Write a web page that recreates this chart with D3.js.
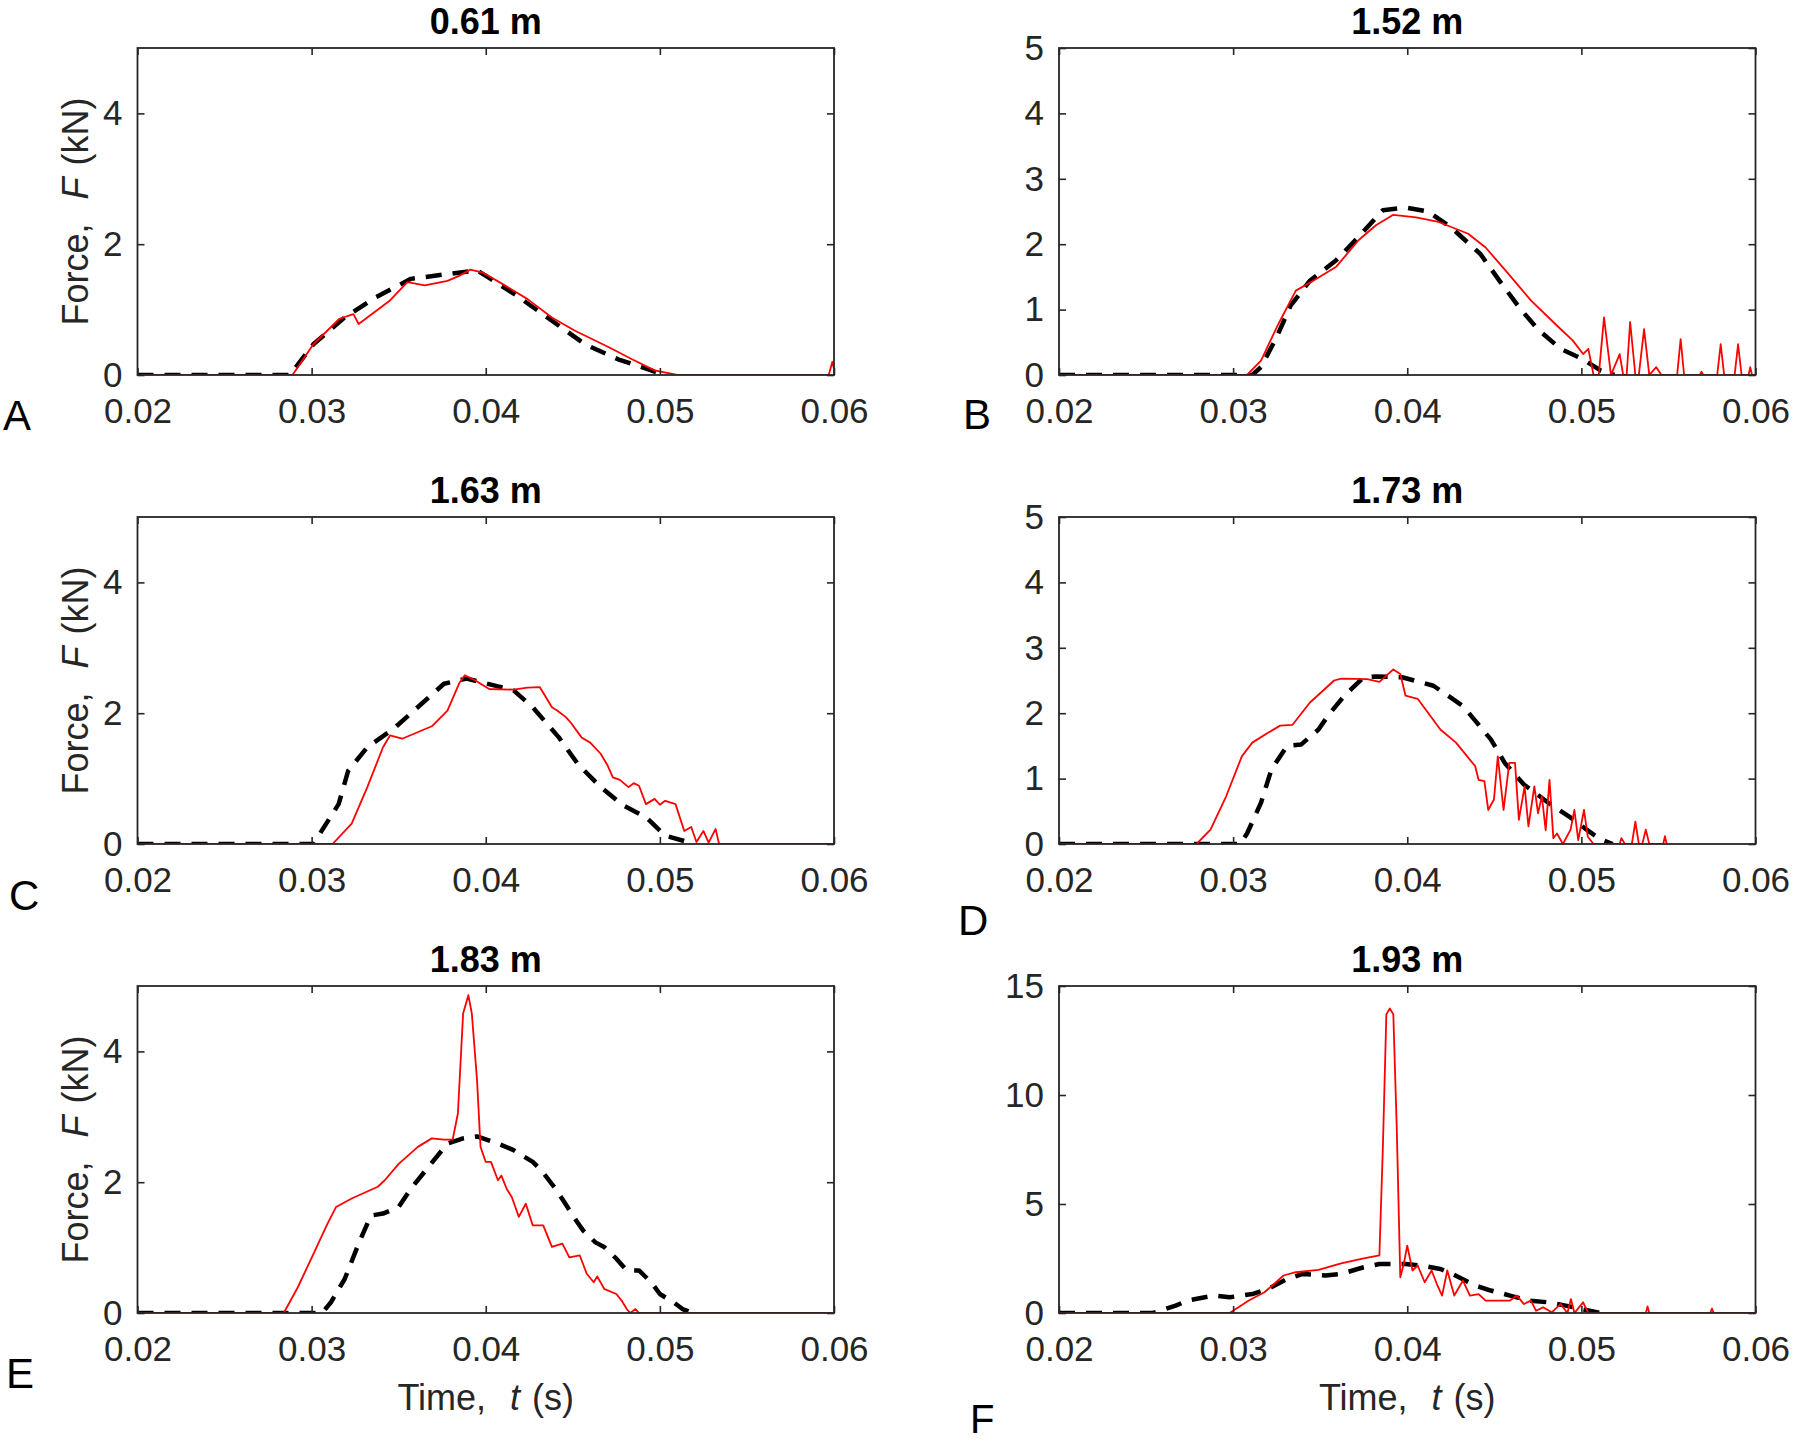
<!DOCTYPE html>
<html><head><meta charset="utf-8">
<script src="https://cdn.jsdelivr.net/npm/d3@7"></script>
<style>html,body{margin:0;padding:0;background:#fff;} svg{display:block;}</style>
</head><body><svg id="chart" width="1800" height="1443"></svg>
<script>
// ---------- data ----------
const xTicks = [0.02, 0.03, 0.04, 0.05, 0.06];
const xTickLabels = ["0.02", "0.03", "0.04", "0.05", "0.06"];
const yTicksLeftCol = [0, 2, 4];
const yTicksRightCol = [0, 1, 2, 3, 4, 5];
const yTicksF = [0, 5, 10, 15];
const titles = ["0.61 m", "1.52 m", "1.63 m", "1.73 m", "1.83 m", "1.93 m"];
const letters = ["A", "B", "C", "D", "E", "F"];
const yMaxes = [5, 5, 5, 5, 5, 15];

// [time (s), force (kN)] — black dashed (model), red solid (measured)
const blackA = [[0.02,0],[0.02875,0],[0.0301,0.47],[0.0319,0.88],[0.0337,1.19],[0.0357,1.47],[0.038,1.55],[0.0395,1.6],[0.0401,1.5],[0.0418,1.21],[0.0438,0.83],[0.0457,0.47],[0.0476,0.24],[0.0495,0.07],[0.0502,0]];
const redA = [[0.02,0],[0.0289,0],[0.0301,0.47],[0.0316,0.86],[0.0324,0.93],[0.0327,0.78],[0.0345,1.14],[0.0355,1.42],[0.0365,1.37],[0.0378,1.44],[0.0385,1.52],[0.0391,1.61],[0.0398,1.57],[0.0411,1.37],[0.0424,1.16],[0.0438,0.88],[0.0451,0.68],[0.0471,0.42],[0.0484,0.24],[0.0497,0.07],[0.051,0],[0.0597,0],[0.0599,0.2],[0.06,0.1]];

const blackB = [[0.02,0],[0.0311,0],[0.0316,0.12],[0.0325,0.58],[0.0333,1.06],[0.0344,1.44],[0.0359,1.75],[0.0372,2.11],[0.0386,2.52],[0.0399,2.56],[0.0412,2.5],[0.0425,2.26],[0.0442,1.85],[0.0453,1.44],[0.0465,1.01],[0.0475,0.7],[0.0488,0.4],[0.0501,0.24],[0.0511,0.07],[0.0519,0]];
const redB = [[0.02,0],[0.0308,0],[0.0316,0.22],[0.0326,0.78],[0.0336,1.29],[0.0346,1.44],[0.0359,1.65],[0.0372,2.06],[0.0382,2.29],[0.0392,2.45],[0.0405,2.41],[0.0418,2.34],[0.0435,2.16],[0.0445,1.95],[0.0458,1.55],[0.0471,1.14],[0.0485,0.78],[0.0495,0.53],[0.0501,0.32],[0.0504,0.4],[0.0507,0],[0.051,0],[0.0513,0.88],[0.0517,0],[0.0522,0.32],[0.0524,0],[0.0526,0],[0.0528,0.81],[0.0531,0],[0.0533,0],[0.0536,0.7],[0.0539,0],[0.0543,0.12],[0.0546,0],[0.0555,0],[0.0557,0.55],[0.0559,0],[0.0568,0],[0.0569,0.05],[0.057,0],[0.0578,0],[0.058,0.47],[0.0582,0],[0.0588,0],[0.059,0.47],[0.0592,0],[0.0596,0],[0.0597,0.12],[0.0598,0],[0.06,0]];

const blackC = [[0.02,0],[0.0301,0],[0.03155,0.61],[0.0321,1.12],[0.0332,1.48],[0.0347,1.76],[0.0363,2.14],[0.0376,2.45],[0.0389,2.53],[0.0407,2.41],[0.0416,2.35],[0.0427,2.09],[0.0442,1.63],[0.0453,1.22],[0.0466,0.87],[0.0479,0.59],[0.0492,0.41],[0.0503,0.13],[0.0516,0.03],[0.0519,0]];
const redC = [[0.02,0],[0.0312,0],[0.0323,0.31],[0.0332,0.87],[0.0341,1.48],[0.0345,1.66],[0.0352,1.61],[0.0369,1.8],[0.0378,2.04],[0.0385,2.47],[0.0388,2.58],[0.0394,2.5],[0.0402,2.37],[0.0416,2.36],[0.0424,2.39],[0.0431,2.4],[0.0438,2.09],[0.0441,2.04],[0.0446,1.94],[0.0449,1.85],[0.0455,1.63],[0.046,1.55],[0.0466,1.38],[0.047,1.2],[0.0473,1.02],[0.0477,0.98],[0.0482,0.87],[0.0485,0.93],[0.0488,0.89],[0.0492,0.61],[0.0497,0.69],[0.05,0.6],[0.0503,0.66],[0.0509,0.61],[0.0514,0.2],[0.0518,0.26],[0.0521,0.03],[0.0525,0.2],[0.0528,0.02],[0.0532,0.23],[0.0534,0],[0.06,0]];

const blackD = [[0.02,0],[0.0304,0],[0.0308,0.16],[0.0316,0.63],[0.0322,1.14],[0.0331,1.5],[0.0339,1.52],[0.0349,1.75],[0.0355,1.98],[0.0364,2.27],[0.0375,2.55],[0.0382,2.56],[0.0397,2.55],[0.0415,2.42],[0.0432,2.11],[0.0448,1.6],[0.0456,1.24],[0.0467,0.91],[0.0481,0.63],[0.0493,0.42],[0.0503,0.22],[0.0511,0.07],[0.0518,0]];
const redD = [[0.02,0],[0.0279,0],[0.0287,0.22],[0.0296,0.73],[0.0305,1.34],[0.0311,1.55],[0.032,1.7],[0.0327,1.81],[0.0334,1.82],[0.0344,2.16],[0.0358,2.5],[0.0362,2.53],[0.0377,2.52],[0.0384,2.48],[0.0392,2.67],[0.0396,2.6],[0.0399,2.27],[0.0406,2.22],[0.0419,1.75],[0.0428,1.55],[0.0439,1.19],[0.0441,0.98],[0.04443,0.96],[0.04465,0.52],[0.04498,0.68],[0.0452,1.34],[0.04553,0.52],[0.04586,1.24],[0.04619,1.24],[0.04641,0.37],[0.04674,0.88],[0.04696,0.27],[0.0473,0.88],[0.04751,0.47],[0.04773,0.73],[0.04795,0.21],[0.04817,0.98],[0.04839,0.09],[0.0486,0.16],[0.04894,0],[0.04938,0.22],[0.0496,0.52],[0.04982,0.06],[0.05015,0.52],[0.05037,0.11],[0.0507,0],[0.0522,0],[0.0523,0.09],[0.0525,0],[0.0529,0],[0.0531,0.34],[0.0533,0],[0.0535,0],[0.0537,0.22],[0.0539,0],[0.0547,0],[0.0548,0.12],[0.0549,0]];

const blackE = [[0.02,0],[0.0306,0],[0.0311,0.16],[0.0319,0.52],[0.0327,1.06],[0.0334,1.49],[0.0341,1.52],[0.035,1.62],[0.0357,1.9],[0.0367,2.23],[0.0378,2.59],[0.0387,2.67],[0.0395,2.7],[0.0407,2.59],[0.0416,2.49],[0.0427,2.31],[0.0432,2.18],[0.044,1.9],[0.0445,1.7],[0.0452,1.41],[0.0456,1.26],[0.0463,1.08],[0.0468,1.01],[0.0475,0.83],[0.0481,0.65],[0.0488,0.65],[0.0495,0.47],[0.05,0.29],[0.0508,0.16],[0.0513,0.06],[0.0519,0]];
const redE = [[0.02,0],[0.0284,0],[0.0292,0.39],[0.0301,0.9],[0.0309,1.36],[0.0314,1.62],[0.0323,1.75],[0.0338,1.93],[0.0342,2.03],[0.035,2.28],[0.0361,2.54],[0.0369,2.67],[0.0376,2.65],[0.0381,2.65],[0.0384,3.05],[0.0387,4.58],[0.039,4.86],[0.0392,4.58],[0.0395,3.56],[0.0397,2.54],[0.04,2.31],[0.0403,2.31],[0.0407,2.03],[0.0409,2.1],[0.0412,1.9],[0.0415,1.77],[0.0419,1.47],[0.0423,1.67],[0.0427,1.34],[0.0433,1.34],[0.0438,1.01],[0.0444,1.06],[0.0448,0.85],[0.0454,0.88],[0.0458,0.6],[0.0462,0.47],[0.0464,0.56],[0.0468,0.37],[0.0475,0.29],[0.0478,0.19],[0.0481,0.06],[0.0483,0],[0.0486,0.06],[0.0488,0],[0.06,0]];

const blackF = [[0.02,0],[0.0254,0],[0.0267,0.34],[0.0274,0.57],[0.0289,0.8],[0.0298,0.72],[0.0311,0.87],[0.032,1.1],[0.0331,1.56],[0.034,1.79],[0.0353,1.72],[0.0362,1.79],[0.0375,2.1],[0.0384,2.25],[0.0399,2.25],[0.041,2.15],[0.0419,2.02],[0.0426,1.79],[0.0439,1.26],[0.0448,1.03],[0.0459,0.8],[0.047,0.57],[0.0481,0.49],[0.0491,0.34],[0.05,0.18],[0.0511,0]];
const redF = [[0.02,0],[0.0298,0],[0.0309,0.57],[0.0318,0.95],[0.0329,1.72],[0.0336,1.87],[0.0349,1.98],[0.0362,2.28],[0.0375,2.51],[0.0384,2.64],[0.0386,7.6],[0.0388,13.7],[0.039,13.97],[0.0392,13.7],[0.0394,8.4],[0.0396,1.64],[0.0398,2.25],[0.04,3.09],[0.0403,1.95],[0.0406,2.18],[0.041,1.41],[0.0414,1.95],[0.0417,1.33],[0.042,0.8],[0.0423,1.95],[0.0427,0.8],[0.0432,1.49],[0.0436,0.8],[0.0441,0.87],[0.0445,0.57],[0.0452,0.57],[0.0459,0.57],[0.0463,0.8],[0.0467,0.41],[0.0471,0.57],[0.0474,0.1],[0.0478,0.26],[0.0483,0.03],[0.0488,0.41],[0.0492,0],[0.0494,0.64],[0.0496,0],[0.0501,0.49],[0.0504,0],[0.0537,0],[0.0538,0.3],[0.0539,0],[0.0574,0],[0.0575,0.2],[0.0576,0],[0.06,0]];

const blackSeries = [blackA, blackB, blackC, blackD, blackE, blackF];
const redSeries = [redA, redB, redC, redD, redE, redF];
const yTickSets = [yTicksLeftCol, yTicksRightCol, yTicksLeftCol, yTicksRightCol, yTicksLeftCol, yTicksF];

// ---------- layout ----------
const FONT = '"Liberation Sans", Arial, Helvetica, sans-serif';
const AX = '#262626';
const colX = [137.5, 1059];
const rowY = [48, 517, 986];
const pw = 696.5, ph = 327;
const letterPos = [[3,430],[963,429],[9,910],[958,935],[6,1388],[970,1433]];
const letterSize = [42, 42, 42, 42, 42, 40];

const svg = d3.select('#chart');
svg.append('rect').attr('width', 1800).attr('height', 1443).attr('fill', '#fff');

for (let i = 0; i < 6; i++) {
  const col = i % 2, row = Math.floor(i / 2);
  const g = svg.append('g').attr('transform', `translate(${colX[col]},${rowY[row]})`);
  const x = d3.scaleLinear().domain([0.02, 0.06]).range([0, pw]);
  const y = d3.scaleLinear().domain([0, yMaxes[i]]).range([ph, 0]);

  const clipId = 'clip' + i;
  g.append('clipPath').attr('id', clipId).append('rect')
    .attr('x', 0).attr('y', -2).attr('width', pw).attr('height', ph + 2);

  const line = d3.line().x(d => x(d[0])).y(d => y(d[1]));
  const plot = g.append('g').attr('clip-path', `url(#${clipId})`);
  plot.append('path').datum(blackSeries[i]).attr('d', line)
    .attr('fill', 'none').attr('stroke', '#000').attr('stroke-width', 4.5)
    .attr('stroke-dasharray', '16,11').attr('stroke-linejoin', 'round');
  plot.append('path').datum(redSeries[i]).attr('d', line)
    .attr('fill', 'none').attr('stroke', '#ff0000').attr('stroke-width', 1.8)
    .attr('stroke-linejoin', 'round');

  // axes
  const gx = g.append('g').attr('transform', `translate(0,${ph})`)
    .call(d3.axisBottom(x).tickValues(xTicks).tickFormat((d, k) => xTickLabels[k])
      .tickSizeInner(-7).tickSizeOuter(0).tickPadding(23));
  const gy = g.append('g')
    .call(d3.axisLeft(y).tickValues(yTickSets[i]).tickFormat(d3.format('d'))
      .tickSizeInner(-7).tickSizeOuter(0).tickPadding(15));
  const gt = g.append('g')
    .call(d3.axisTop(x).tickValues(xTicks).tickFormat('').tickSizeInner(-7).tickSizeOuter(0));
  const gr = g.append('g').attr('transform', `translate(${pw},0)`)
    .call(d3.axisRight(y).tickValues(yTickSets[i]).tickFormat('').tickSizeInner(-7).tickSizeOuter(0));
  [gx, gy, gt, gr].forEach(a => {
    a.select('.domain').remove();
    a.selectAll('.tick line').attr('stroke', AX).attr('stroke-width', 1.6);
    a.selectAll('.tick text').attr('font-family', FONT).attr('font-size', 35).attr('fill', AX);
    a.attr('font-family', FONT).attr('font-size', 35);
  });

  g.append('rect').attr('x', 0).attr('y', 0).attr('width', pw).attr('height', ph)
    .attr('fill', 'none').attr('stroke', AX).attr('stroke-width', 1.8);

  // title
  g.append('text').attr('x', pw / 2).attr('y', -14).attr('text-anchor', 'middle')
    .attr('font-family', FONT).attr('font-size', 36).attr('font-weight', 'bold')
    .attr('fill', '#000').text(titles[i]);

  // y label (left column)
  if (col === 0) {
    const t = g.append('text').attr('transform', `translate(-49.5,${ph / 2}) rotate(-90)`)
      .attr('text-anchor', 'middle').attr('font-family', FONT).attr('font-size', 36).attr('fill', AX);
    t.append('tspan').text('Force,');
    t.append('tspan').attr('dx', 24).attr('font-style', 'italic').text('F');
    t.append('tspan').attr('dx', 12).text('(kN)');
  }
  // x label (bottom row)
  if (row === 2) {
    const t = g.append('text').attr('x', pw / 2).attr('y', ph + 97)
      .attr('text-anchor', 'middle').attr('font-family', FONT).attr('font-size', 36).attr('fill', AX);
    t.append('tspan').text('Time,');
    t.append('tspan').attr('dx', 24).attr('font-style', 'italic').text('t');
    t.append('tspan').attr('dx', 12).text('(s)');
  }

  // panel letter
  svg.append('text').attr('x', letterPos[i][0]).attr('y', letterPos[i][1])
    .attr('font-family', FONT).attr('font-size', letterSize[i]).attr('fill', '#000').text(letters[i]);
}
</script>
</body></html>
